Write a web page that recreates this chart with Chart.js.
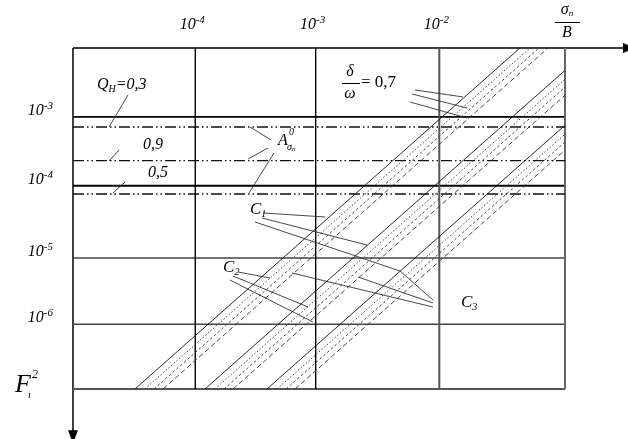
<!DOCTYPE html>
<html><head><meta charset="utf-8">
<script src="https://cdn.jsdelivr.net/npm/chart.js@4/dist/chart.umd.min.js"></script>
<style>html,body{margin:0;padding:0;background:#fff}canvas{display:block}</style>
</head><body>
<canvas id="c" width="628" height="439"></canvas>
<script>
// ---- axes (decade exponents) ----
const xRange = [-5, -1];
const yRange = [-7, -2];
const xGridPos = [-4.006, -3.027, -2.022];
const xTickExp = ['-4', '-3', '-2'];
const yGridPos = [-3.01, -4.02, -5.08, -6.05];
const yTickExp = ['-3', '-4', '-5', '-6'];

// ---- A_sigma^0 levels (dash-dot lines) for Q_H = 0,3 / 0,9 / 0,5 ----
const aLevels = [-3.158, -3.652, -4.141];
const qLabels = ['Q_H=0,3', '0,9', '0,5'];

// ---- diagonal families (solid, dotted, dotted, dashed) ----
const fam1BottomX = [-4.496, -4.415, -4.341, -4.268];
const fam1TopX    = [-1.366, -1.285, -1.211, -1.138];
const fam2BottomX = [-3.927, -3.846, -3.772, -3.699];
const fam2RightY  = [-2.328, -2.459, -2.575, -2.692];
const fam3BottomX = [-3.423, -3.341, -3.268, -3.195];
const fam3RightY  = [-3.133, -3.263, -3.380, -3.497];

// ---- leader lines [x1,y1,x2,y2] ----
const leadersQ = [[-4.553,-2.689,-4.707,-3.158],[-4.626,-3.496,-4.707,-3.657],[-4.577,-3.965,-4.675,-4.126]];
const leadersA = [[-3.390,-3.349,-3.561,-3.158],[-3.415,-3.466,-3.577,-3.628],[-3.366,-3.540,-3.569,-4.126]];
const leadersD = [[-2.220,-2.616,-1.829,-2.718],[-2.244,-2.674,-1.797,-2.880],[-2.260,-2.792,-1.797,-3.026]];
const leadersC1 = [[-3.455,-4.419,-2.951,-4.478],[-3.463,-4.493,-2.610,-4.889],[-3.520,-4.551,-2.341,-5.270]];
const leadersC2 = [[-3.659,-5.284,-3.398,-5.372],[-3.699,-5.343,-3.089,-5.798],[-3.724,-5.402,-3.049,-6.018]];
const leadersC3 = [[-2.341,-5.270,-2.073,-5.695],[-2.683,-5.358,-2.073,-5.739],[-3.220,-5.299,-2.073,-5.798]];

// ---- annotation anchors (data coords) ----
const labelQ = [[-4.805,-2.543],[-4.431,-3.422],[-4.390,-3.833]];
const labelA = [-3.333,-3.364];
const labelD = [-2.740,-2.513];
const labelC = [[-3.561,-4.375,'1'],[-3.780,-5.226,'2'],[-1.846,-5.739,'3']];

// ---------- datasets ----------
const ds = [];
function seg(x1,y1,x2,y2,color,w,dash,clip){
  ds.push({data:[{x:x1,y:y1},{x:x2,y:y2}],showLine:true,borderColor:color,borderWidth:w,
    borderDash:dash||[],pointRadius:0,fill:false,tension:0,clip:clip===false?false:undefined});
}
const famStyles = [
  {c:'#111',w:0.9,d:[]},
  {c:'#333',w:0.9,d:[1.5,2]},
  {c:'#333',w:0.9,d:[2.5,2.5]},
  {c:'#333',w:0.9,d:[5,3]}
];
fam1BottomX.forEach((b,i)=>seg(b,yRange[0],fam1TopX[i],yRange[1],famStyles[i].c,famStyles[i].w,famStyles[i].d));
fam2BottomX.forEach((b,i)=>seg(b,yRange[0],xRange[1],fam2RightY[i],famStyles[i].c,famStyles[i].w,famStyles[i].d));
fam3BottomX.forEach((b,i)=>seg(b,yRange[0],xRange[1],fam3RightY[i],famStyles[i].c,famStyles[i].w,famStyles[i].d));
aLevels.forEach(v=>seg(xRange[0],v,xRange[1],v,'#111',1.4,[11,3,1.5,3,1.5,3]));
[leadersQ,leadersA,leadersD,leadersC1,leadersC2,leadersC3].forEach(g=>g.forEach(s=>seg(s[0],s[1],s[2],s[3],'#333',0.9,[],false)));
// grid
xGridPos.forEach((v,i)=>seg(v,yRange[0],v,yRange[1],i<2?'#000':'#555',i<2?1.4:2,[],false));
seg(xRange[1],yRange[0],xRange[1],yRange[1],'#666',2,[],false);
yGridPos.forEach((v,i)=>seg(xRange[0],v,xRange[1],v,i<2?'#000':'#444',i<2?1.8:1.5,[],false));
seg(xRange[0],yRange[0],xRange[1],yRange[0],'#555',2,[],false);
// axes (extend past the frame to the arrows)
seg(xRange[0],yRange[1],-0.52,yRange[1],'#000',1.5,[],false);
seg(xRange[0],yRange[1],xRange[0],-7.62,'#000',1.5,[],false);

// ---------- text helpers ----------
const SERIF = '"Liberation Serif","DejaVu Serif",serif';
function fnt(p){return (p[3]==='n'?'':'italic ')+p[1]+'px '+SERIF;}
function rich(ctx,x,y,parts,align){
  let w=0; parts.forEach(p=>{ctx.font=fnt(p); w+=ctx.measureText(p[0]).width+(p[4]||0);});
  let cx = align==='right'?x-w:align==='center'?x-w/2:x;
  parts.forEach(p=>{ctx.font=fnt(p); ctx.fillText(p[0],cx+(p[4]||0),y+(p[2]||0)); cx+=ctx.measureText(p[0]).width+(p[4]||0);});
}

const deco = {
  id:'deco',
  afterDraw(chart){
    const ctx=chart.ctx, xs=chart.scales.x, ys=chart.scales.y;
    const X=v=>xs.getPixelForValue(v), Y=v=>ys.getPixelForValue(v);
    ctx.save();
    ctx.fillStyle='#000'; ctx.textBaseline='middle';
    // arrows
    const ax=X(-0.52)+12, ay=Y(yRange[1]);
    ctx.beginPath(); ctx.moveTo(ax,ay); ctx.lineTo(ax-13,ay-5); ctx.lineTo(ax-13,ay+5); ctx.closePath(); ctx.fill();
    const bx=X(xRange[0]), by=Y(-7.62)+12;
    ctx.beginPath(); ctx.moveTo(bx,by); ctx.lineTo(bx-5,by-13); ctx.lineTo(bx+5,by-13); ctx.closePath(); ctx.fill();
    // top tick labels
    xGridPos.forEach((v,i)=>rich(ctx,X(v)-3,Y(yRange[1])-23,[['10',16,0],[xTickExp[i],11,-5]],'center'));
    // left tick labels
    yGridPos.forEach((v,i)=>rich(ctx,X(xRange[0])-20,Y(v)-6,[['10',16,0],[yTickExp[i],11,-5]],'right'));
    // sigma_n / B
    const sx=X(xRange[1])+2, sy=Y(yRange[1]);
    rich(ctx,sx,sy-38,[['σ',16,0],['n',9,4]],'center');
    ctx.fillRect(sx-12,sy-26,25,1);
    rich(ctx,sx,sy-15,[['B',16,0]],'center');
    // F_1^2
    const fy=Y(yRange[0]);
    rich(ctx,X(xRange[0])-58,fy-4,[['F',26,0],['ı',11,10,'i',-3],['2',12,-10,'i',1]],'left');
    // Q labels
    rich(ctx,X(labelQ[0][0]),Y(labelQ[0][1]),[['Q',16,0],['H',10,4],['=0,3',16,0]],'left');
    rich(ctx,X(labelQ[1][0]),Y(labelQ[1][1]),[[qLabels[1],16,0]],'left');
    rich(ctx,X(labelQ[2][0]),Y(labelQ[2][1]),[[qLabels[2],16,0]],'left');
    // A_sigma_n^0
    const axp=X(labelA[0]), ayp=Y(labelA[1]);
    rich(ctx,axp,ayp,[['A',16,0]],'left');
    rich(ctx,axp+11,ayp-9,[['0',10,0]],'left');
    rich(ctx,axp+9,ayp+6,[['σ',10,0],['n',7,2]],'left');
    // delta/omega = 0,7
    const dxp=X(labelD[0]), dyp=Y(labelD[1]);
    rich(ctx,dxp-1,dyp-11,[['δ',16,0]],'center');
    ctx.fillRect(dxp-9,dyp,18,1);
    rich(ctx,dxp-1,dyp+11,[['ω',16,0]],'center');
    rich(ctx,dxp+10,dyp,[['= 0,7',17,0,'n']],'left');
    // C labels
    labelC.forEach(c=>rich(ctx,X(c[0]),Y(c[1]),[['C',17,0],[c[2],10,4]],'left'));
    ctx.restore();
  }
};

new Chart(document.getElementById('c'),{
  type:'scatter',
  data:{datasets:ds},
  options:{
    responsive:false,animation:false,devicePixelRatio:1,
    layout:{padding:{left:73,top:48,right:63,bottom:50}},
    scales:{
      x:{type:'linear',min:xRange[0],max:xRange[1],display:false},
      y:{type:'linear',min:yRange[0],max:yRange[1],display:false}
    },
    plugins:{legend:{display:false},tooltip:{enabled:false}},
    elements:{point:{radius:0}}
  },
  plugins:[deco]
});
</script>
</body></html>
